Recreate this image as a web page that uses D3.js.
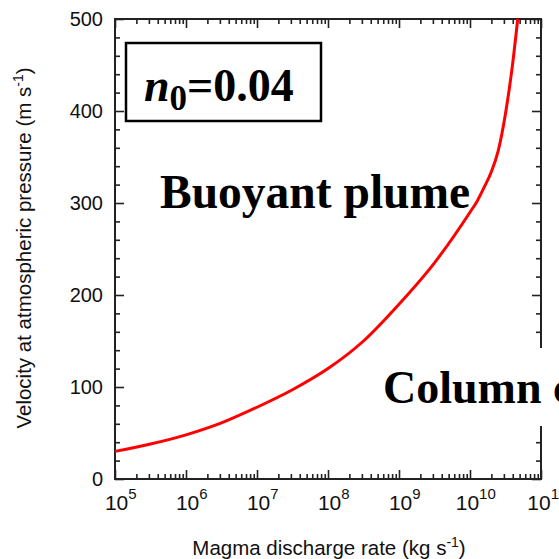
<!DOCTYPE html>
<html>
<head>
<meta charset="utf-8">
<script src="https://cdn.jsdelivr.net/npm/d3@7"></script>
<style>
  body { margin: 0; background: #fff; }
  svg { display: block; }
  .axis text { font-family: "Liberation Sans", Arial, sans-serif; font-size: 20px; fill: #111; }
  .axis line { stroke: #222; stroke-width: 1.6px; }
  .axis path { display: none; }
  .axisTitle { font-family: "Liberation Sans", Arial, sans-serif; font-size: 20.5px; fill: #111; }
  .label { font-family: "Liberation Serif", "Times New Roman", serif; font-weight: bold; fill: #000; }
</style>
</head>
<body>
<script>
(function(){

    //curve: discharge rate (kg/s) vs velocity (m/s)
    var dischargeRate = [1e5, 3.16e5, 1e6, 3.16e6, 1e7, 3.16e7, 1e8, 3.16e8, 1e9, 3.16e9,
                         1e10, 1.26e10, 1.58e10, 2e10, 2.5e10, 3.16e10, 3.98e10, 4.7e10];
    var velocity = [30, 38, 48, 61, 78, 97, 120, 150, 190, 235,
                    290, 302, 317, 334, 357, 397, 451, 500];

    var xTicks = [1e5, 1e6, 1e7, 1e8, 1e9, 1e10, 1e11];
    var yTicks = [0, 100, 200, 300, 400, 500];

    window.onload = drawChart();

    function drawChart(){
        var width = 559, height = 559;
        var left = 115, right = 541, top = 19, bottom = 479;

        var svg = d3.select("body").append("svg")
            .attr("width", width)
            .attr("height", height);

        var x = d3.scaleLog().domain([1e5, 1e11]).range([left, right]);
        var y = d3.scaleLinear().domain([0, 500]).range([bottom, top]);

        //minor ticks: 2..9 in each decade, every 20 on y
        var xMinor = [];
        for (var e = 5; e < 11; e++){
            for (var m = 2; m < 10; m++){ xMinor.push(m * Math.pow(10, e)); }
        }
        var yMinor = d3.range(0, 501, 20).filter(function(v){ return v % 100 != 0; });

        //bottom axis (ticks pointing in)
        svg.append("g").attr("class", "axis")
            .attr("transform", "translate(0," + bottom + ")")
            .call(d3.axisBottom(x).tickValues(xMinor).tickSize(-5).tickFormat(""));
        var xAxis = svg.append("g").attr("class", "axis")
            .attr("transform", "translate(0," + bottom + ")")
            .call(d3.axisBottom(x).tickValues(xTicks).tickSize(-9));

        //format 10^n labels with superscripts
        xAxis.selectAll("text").each(function(d){
            var t = d3.select(this).text("");
            t.attr("dy", null).attr("y", 31).attr("dx", "0.25em").style("font-size", "21px");
            t.append("tspan").text("10");
            t.append("tspan").attr("dy", -11).style("font-size", "15px").text(Math.round(Math.log10(d)));
        });

        //top axis
        svg.append("g").attr("class", "axis")
            .attr("transform", "translate(0," + top + ")")
            .call(d3.axisTop(x).tickValues(xMinor).tickSize(-5).tickFormat(""));
        svg.append("g").attr("class", "axis")
            .attr("transform", "translate(0," + top + ")")
            .call(d3.axisTop(x).tickValues(xTicks).tickSize(-9).tickFormat(""));

        //left axis
        svg.append("g").attr("class", "axis")
            .attr("transform", "translate(" + left + ",0)")
            .call(d3.axisLeft(y).tickValues(yMinor).tickSize(-5).tickFormat(""));
        svg.append("g").attr("class", "axis")
            .attr("transform", "translate(" + left + ",0)")
            .call(d3.axisLeft(y).tickValues(yTicks).tickSize(-9).tickPadding(12));

        //right axis
        svg.append("g").attr("class", "axis")
            .attr("transform", "translate(" + right + ",0)")
            .call(d3.axisRight(y).tickValues(yMinor).tickSize(-5).tickFormat(""));
        svg.append("g").attr("class", "axis")
            .attr("transform", "translate(" + right + ",0)")
            .call(d3.axisRight(y).tickValues(yTicks).tickSize(-9).tickFormat(""));

        //frame
        svg.append("rect")
            .attr("x", left).attr("y", top)
            .attr("width", right - left).attr("height", bottom - top)
            .attr("fill", "none").attr("stroke", "#222").attr("stroke-width", 2);

        //red curve
        var line = d3.line()
            .x(function(d, i){ return x(dischargeRate[i]); })
            .y(function(d){ return y(d); })
            .curve(d3.curveMonotoneX);

        svg.append("path")
            .datum(velocity)
            .attr("d", line)
            .attr("fill", "none")
            .attr("stroke", "#ff0000")
            .attr("stroke-width", 3);

        //axis titles
        var xt = svg.append("text").attr("class", "axisTitle")
            .attr("x", 329).attr("y", 555)
            .attr("text-anchor", "middle");
        xt.append("tspan").text("Magma discharge rate (kg s");
        xt.append("tspan").attr("dy", -8).style("font-size", "14px").text("-1");
        xt.append("tspan").attr("dy", 8).text(")");

        var yt = svg.append("text").attr("class", "axisTitle")
            .attr("transform", "translate(31," + 248 + ") rotate(-90)")
            .attr("text-anchor", "middle");
        yt.append("tspan").text("Velocity at atmospheric pressure (m s");
        yt.append("tspan").attr("dy", -8).style("font-size", "14px").text("-1");
        yt.append("tspan").attr("dy", 8).text(")");

        //n0 box
        svg.append("rect")
            .attr("x", 126).attr("y", 43)
            .attr("width", 195).attr("height", 78)
            .attr("fill", "#fff").attr("stroke", "#000").attr("stroke-width", 2.5);
        var nt = svg.append("text").attr("class", "label")
            .attr("x", 144).attr("y", 101)
            .style("font-size", "46px");
        nt.append("tspan").style("font-style", "italic").text("n");
        nt.append("tspan").attr("dy", 9).style("font-size", "35px").text("0");
        nt.append("tspan").attr("dy", -9).text("=0.04");

        //region labels
        svg.append("text").attr("class", "label")
            .attr("x", 160).attr("y", 208)
            .style("font-size", "47.5px")
            .text("Buoyant plume");

        //white backing that hides the right axis behind the second label
        svg.append("rect")
            .attr("x", 376).attr("y", 348)
            .attr("width", 183).attr("height", 78)
            .attr("fill", "#fff");
        svg.append("text").attr("class", "label")
            .attr("x", 383).attr("y", 403)
            .style("font-size", "46px")
            .text("Column collapse");
    };
})();
</script>
</body>
</html>
